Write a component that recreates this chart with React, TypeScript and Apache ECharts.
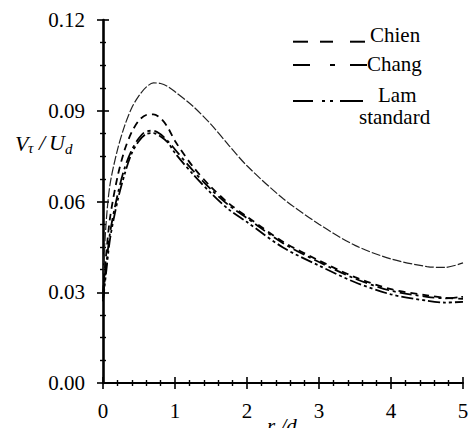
import React, { useEffect, useRef } from "react";
import * as echarts from "echarts";

const xs = [0, 0.05, 0.1, 0.2, 0.3, 0.4, 0.5, 0.6, 0.7, 0.8, 0.9, 1.0, 1.25, 1.5, 1.75, 2.0, 2.5, 3.0, 3.5, 4.0, 4.5, 4.75, 5.0];
const standard = [0.036, 0.055, 0.066, 0.077, 0.085, 0.091, 0.095, 0.0978, 0.0992, 0.099, 0.098, 0.0963, 0.0915, 0.0855, 0.0785, 0.0718, 0.061, 0.0525, 0.0455, 0.041, 0.0385, 0.0382, 0.0397];
const chien = [0.03, 0.044, 0.055, 0.068, 0.077, 0.083, 0.0868, 0.0886, 0.0888, 0.0875, 0.0845, 0.08, 0.0715, 0.0648, 0.0593, 0.055, 0.0467, 0.0405, 0.035, 0.031, 0.029, 0.0282, 0.0278];
const chang = [0.028, 0.04, 0.05, 0.062, 0.071, 0.077, 0.081, 0.0832, 0.0834, 0.0822, 0.08, 0.0772, 0.0702, 0.064, 0.0587, 0.0545, 0.0462, 0.04, 0.0345, 0.0305, 0.0285, 0.028, 0.0285];
const lam = [0.027, 0.038, 0.048, 0.06, 0.069, 0.076, 0.08, 0.0823, 0.0826, 0.0815, 0.0795, 0.076, 0.069, 0.0628, 0.0573, 0.0532, 0.0448, 0.0388, 0.0333, 0.0293, 0.0272, 0.0266, 0.0268];
const legendNames = ["Chien", "Chang", "Lam", "standard"];

const FONT = "Liberation Serif";

function zip(v: number[]) {
  return xs.map((x, i) => [x, v[i]]);
}

export default function App() {
  const ref = useRef<HTMLDivElement>(null);
  useEffect(() => {
    if (!ref.current) return;
    const chart = echarts.init(ref.current, null, { renderer: "svg" });
    const axisCommon = (inside: boolean, showLabel: boolean, showLine: boolean, lw: number) => ({
      axisLine: { show: showLine, onZero: false, lineStyle: { color: "#000", width: lw } },
      axisTick: { show: true, inside, length: 6, lineStyle: { color: "#000", width: 1.6 } },
      minorTick: { show: true, length: 3, lineStyle: { color: "#000", width: 1.4 } },
      splitLine: { show: false },
      minorSplitLine: { show: false },
      axisLabel: { show: showLabel, color: "#000", fontFamily: FONT, fontSize: 21 },
    });
    const mkX = (inside: boolean, showLabel: boolean) => {
      const c: any = axisCommon(inside, showLabel, !inside, 2);
      c.axisLabel.margin = 17;
      c.minorTick.splitNumber = 5;
      c.axisLabel.formatter = (v: number) => String(v);
      return { type: "value", position: "bottom", min: 0, max: 5, interval: 1, ...c };
    };
    const mkY = (inside: boolean, showLabel: boolean) => {
      const c: any = axisCommon(inside, showLabel, !inside, 2.6);
      c.axisLabel.margin = 18;
      c.minorTick.splitNumber = 4;
      c.axisLabel.formatter = (v: number) => v.toFixed(2);
      return { type: "value", position: "left", min: 0, max: 0.12, interval: 0.03, ...c };
    };
    const lineSeries = (name: string, data: number[], type: any, width: number, color: string) => ({
      name,
      type: "line",
      xAxisIndex: 0,
      yAxisIndex: 0,
      data: zip(data),
      smooth: 0.3,
      showSymbol: false,
      symbol: "none",
      lineStyle: { color, width, type },
    });
    const legendSegs: { y: number; segs: number[][] }[] = [
      { y: 41.7, segs: [[293, 308], [320, 333], [350, 365]] },
      { y: 65, segs: [[293, 310], [330, 335], [350, 367]] },
      { y: 101, segs: [[293, 313], [322, 325], [330, 333], [340, 363]] },
    ];
    const legendText = [
      { x: 370, y: 35 },
      { x: 367, y: 64 },
      { x: 378, y: 95 },
      { x: 359, y: 117 },
    ];
    const graphics: any[] = [];
    legendSegs.forEach((l) =>
      l.segs.forEach((s) =>
        graphics.push({ type: "line", shape: { x1: s[0], y1: l.y, x2: s[1], y2: l.y }, style: { stroke: "#000", lineWidth: 2 } })
      )
    );
    legendText.forEach((t, i) =>
      graphics.push({
        type: "text",
        x: t.x,
        y: t.y,
        style: { text: legendNames[i], fill: "#000", fontFamily: FONT, fontSize: 21, align: "left", verticalAlign: "middle" },
      })
    );
    const yname = [
      { t: "V", x: 15, y: 143, s: 22 },
      { t: "τ", x: 28, y: 148, s: 15 },
      { t: "/", x: 39, y: 142, s: 22 },
      { t: "U", x: 49, y: 142, s: 22 },
      { t: "d", x: 65, y: 149, s: 15 },
    ];
    yname.forEach((n) =>
      graphics.push({
        type: "text",
        x: n.x,
        y: n.y,
        style: { text: n.t, fill: "#000", fontFamily: FONT, fontStyle: "italic", fontSize: n.s, verticalAlign: "middle" },
      })
    );
    graphics.push({
      type: "text",
      x: 267,
      y: 426,
      style: { text: "r /d", fill: "#000", fontFamily: FONT, fontStyle: "italic", fontSize: 21, verticalAlign: "middle" },
    });

    chart.setOption({
      animation: false,
      backgroundColor: "#fff",
      textStyle: { fontFamily: FONT },
      grid: { left: 103, right: 11, top: 20, bottom: 45, containLabel: false },
      xAxis: [mkX(false, true), mkX(true, false)],
      yAxis: [mkY(false, true), mkY(true, false)],
      series: [
        lineSeries("standard", standard, [9, 2], 1.2, "#222"),
        lineSeries("Chien", chien, [7, 5], 1.8, "#000"),
        lineSeries("Chang", chang, [12, 4, 3, 4], 1.8, "#000"),
        lineSeries("Lam", lam, [12, 3, 3, 3, 3, 3], 1.8, "#000"),
      ],
      graphic: graphics,
    });
    return () => chart.dispose();
  }, []);
  return <div ref={ref} style={{ width: 474, height: 428, position: "absolute", left: 0, top: 0 }} />;
}
